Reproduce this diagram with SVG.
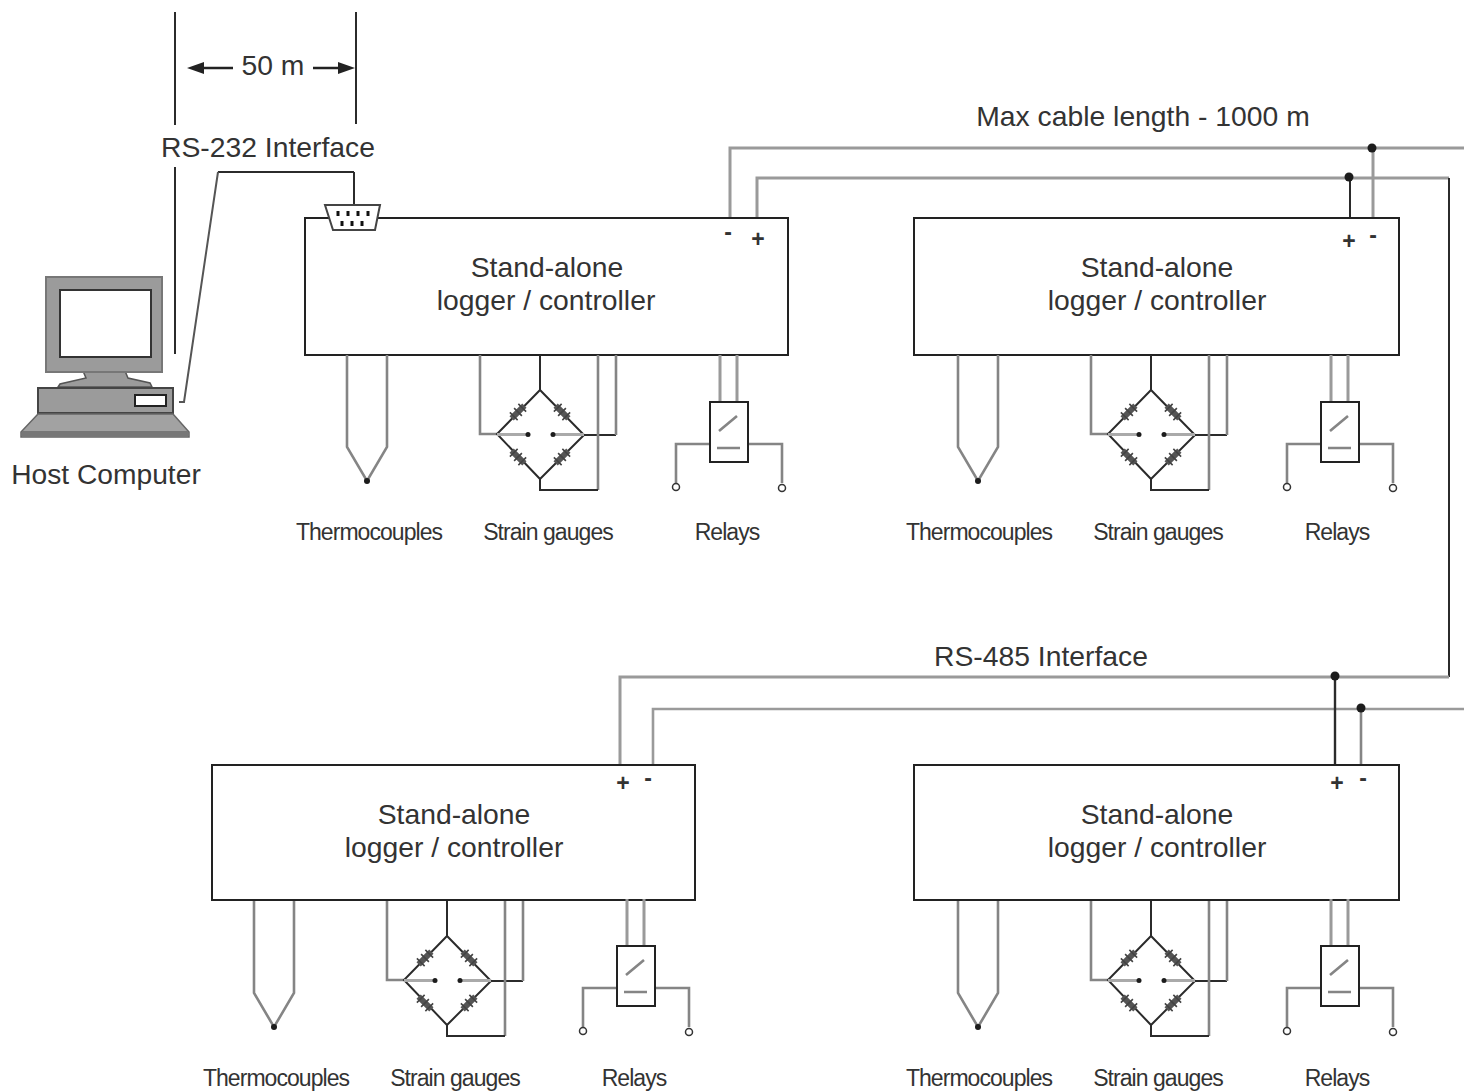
<svg xmlns="http://www.w3.org/2000/svg" width="1464" height="1091" viewBox="0 0 1464 1091">
<style>
text{font-family:"Liberation Sans",Arial,sans-serif;fill:#333;text-anchor:middle}
.t{font-size:28.300px}
.s{font-size:23px;letter-spacing:-.95px}
.sg{font-size:23px;font-weight:bold}
.d{fill:none;stroke:#2b2b2b;stroke-width:2}
.g{fill:none;stroke:#858585;stroke-width:2.600}
.c{fill:none;stroke:#9a9a9a;stroke-width:3}
.box{fill:#fff;stroke:#222;stroke-width:2}
.comp{fill:#9b9b9b;stroke:#444;stroke-width:2}
.dot{fill:#1c1c1c}
</style>
<defs>
<g id="res"><rect x="-9" y="-3" width="18" height="6" fill="#555"/><path d="M-6-5.500V5.500M0-5.500V5.500M6-5.500V5.500" stroke="#444" stroke-width="1.600"/></g>
<g id="sensors">
<path class="g" d="M347 355V447L367 481L387 447V355"/>
<circle class="dot" cx="367" cy="481" r="3"/>
<path class="d" d="M540 355V390M584 435H616"/>
<path class="g" d="M616 435V355M480 355V434H497M598 490V355"/>
<path class="d" d="M540 479V490H598"/>
<path class="d" d="M540 390L497 434L540 479L584 435Z"/>
<use href="#res" transform="translate(518 412) rotate(-45)"/>
<use href="#res" transform="translate(562 412) rotate(45)"/>
<use href="#res" transform="translate(518 457) rotate(45)"/>
<use href="#res" transform="translate(562 457) rotate(-45)"/>
<path d="M497 434.500H528M553 434.500H584" fill="none" stroke="#aaa" stroke-width="3"/>
<circle class="dot" cx="528" cy="434.500" r="2.500"/><circle class="dot" cx="553" cy="434.500" r="2.500"/>
</g>
<g id="relay">
<path class="c" d="M720 355V402M737 355V402"/>
<path class="g" d="M710 444H676V483M748 444H782V483"/>
<circle cx="676" cy="487" r="3.500" fill="#fff" stroke="#333" stroke-width="1.500"/>
<circle cx="782" cy="488" r="3.500" fill="#fff" stroke="#333" stroke-width="1.500"/>
<rect class="box" x="710" y="402" width="38" height="60"/>
<path class="g" d="M719 431L737 416M717 448H740"/>
</g>
</defs>
<g id="connectors">
<path class="d" d="M175 12V125M175 167V354M356 12V124"/>
<path d="M203 68H233M313 68H340" stroke="#222" stroke-width="2.500" fill="none"/>
<path d="M187 68L204 62V74ZM355 68L338 62V74Z" fill="#222"/>
<path class="d" d="M354 172H218M354 172V206"/>
<path d="M218 172L184 402H179" fill="none" stroke="#555" stroke-width="2"/>
<path class="c" d="M730 218V148H1464"/>
<path class="c" d="M757 218V178H1449"/>
<path class="d" d="M1449 178V677"/>
<path class="c" d="M1449 677H620V765"/>
<path class="c" d="M653 765V709H1464" style="stroke-width:2.600"/>
<path class="d" d="M1350 178V218"/>
<path class="c" d="M1373 148V218"/>
<path class="d" d="M1335 676V765" style="stroke-width:2.400"/>
<path class="g" d="M1361 708V765"/>
<circle class="dot" cx="1372" cy="148" r="4.500"/>
<circle class="dot" cx="1349" cy="177" r="4.500"/>
<circle class="dot" cx="1335" cy="676" r="4.500"/>
<circle class="dot" cx="1361" cy="708" r="4.500"/>
</g>
<g id="host-computer">
<path d="M83 371L86 378L60 384L58 387H152L150 383L128 378L125 371Z" fill="#9b9b9b" stroke="#555" stroke-width="1.500"/>
<rect x="46" y="277" width="116" height="95" fill="#9b9b9b" stroke="#777" stroke-width="2"/>
<rect x="60" y="290" width="91" height="67" fill="#fff" stroke="#333" stroke-width="2"/>
<rect class="comp" x="38" y="388" width="135" height="25"/>
<rect x="135" y="395" width="31" height="11" fill="#fff" stroke="#222" stroke-width="2"/>
<path d="M38 414H173L189 432V437H21V432Z" fill="#a2a2a2" stroke="#666" stroke-width="1.500"/>
<path d="M22 431H188V437H22Z" fill="#777"/>
<text x="106" y="484" style="font-size:28.200px">Host Computer</text>
</g>
<g id="labels">
<text class="t" x="273" y="75">50 m</text>
<text class="t" x="268" y="157">RS-232 Interface</text>
<text class="t" x="1143" y="126">Max cable length - 1000 m</text>
<text class="t" x="1041" y="666">RS-485 Interface</text>
</g>
<g id="logger-1">
<rect class="box" x="305" y="218" width="483" height="137"/>
<text class="t" x="547" y="277">Stand-alone</text>
<text class="t" x="546" y="310">logger / controller</text>
<text class="sg" x="728" y="240">-</text><text class="sg" x="758" y="247">+</text>
<g id="db9">
<path d="M325 205H380L375 230H333Z" fill="#fff" stroke="#444" stroke-width="2"/>
<path d="M338 211V216M348 211V216M358 211V216M368 211V216M342 221V226M352 221V226M362 221V226" stroke="#111" stroke-width="3"/>
</g>
<use href="#sensors"/><use href="#relay"/>
<text class="s" x="369" y="540">Thermocouples</text><text class="s" x="548" y="540">Strain gauges</text><text class="s" x="727" y="540">Relays</text>
</g>
<g id="logger-2">
<rect class="box" x="914" y="218" width="485" height="137"/>
<text class="t" x="1157" y="277">Stand-alone</text>
<text class="t" x="1157" y="310">logger / controller</text>
<text class="sg" x="1349" y="249">+</text><text class="sg" x="1373" y="243">-</text>
<use href="#sensors" x="611"/><use href="#relay" x="611"/>
<text class="s" x="979" y="540">Thermocouples</text><text class="s" x="1158" y="540">Strain gauges</text><text class="s" x="1337" y="540">Relays</text>
</g>
<g id="logger-3">
<rect class="box" x="212" y="765" width="483" height="135"/>
<text class="t" x="454" y="824">Stand-alone</text>
<text class="t" x="454" y="857">logger / controller</text>
<text class="sg" x="623" y="791">+</text><text class="sg" x="648" y="786">-</text>
<use href="#sensors" x="-93" y="546"/><use href="#relay" x="-93" y="544"/>
<text class="s" x="276" y="1086">Thermocouples</text><text class="s" x="455" y="1086">Strain gauges</text><text class="s" x="634" y="1086">Relays</text>
</g>
<g id="logger-4">
<rect class="box" x="914" y="765" width="485" height="135"/>
<text class="t" x="1157" y="824">Stand-alone</text>
<text class="t" x="1157" y="857">logger / controller</text>
<text class="sg" x="1337" y="791">+</text><text class="sg" x="1363" y="786">-</text>
<use href="#sensors" x="611" y="546"/><use href="#relay" x="611" y="544"/>
<text class="s" x="979" y="1086">Thermocouples</text><text class="s" x="1158" y="1086">Strain gauges</text><text class="s" x="1337" y="1086">Relays</text>
</g>
</svg>
